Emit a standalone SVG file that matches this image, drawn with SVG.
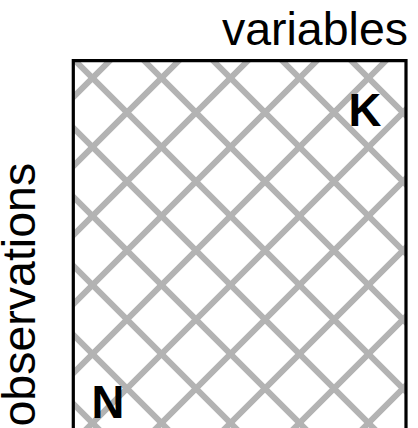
<svg xmlns="http://www.w3.org/2000/svg" width="418" height="428" viewBox="0 0 418 428">
  <style>
    .label { font-family: "Liberation Sans", Arial, sans-serif; font-size: 46.5px; fill: #000; }
    .dim { font-family: "Liberation Sans", Arial, sans-serif; font-size: 45.5px; font-weight: bold; fill: #000; }
    .hatch { stroke: #b3b3b3; stroke-width: 6; fill: none; }
    .frame { stroke: #000; stroke-width: 3.2; fill: none; }
  </style>
  <defs>
    <clipPath id="matrix-clip">
      <rect x="73.3" y="60.7" width="332.7" height="380"/>
    </clipPath>
  </defs>
  <rect width="418" height="428" fill="#fff"/>

  <!-- data matrix: cross-hatched block with black frame -->
  <g id="matrix">
    <g clip-path="url(#matrix-clip)">
      <!-- lines running down-right (x - y = c) -->
      <path class="hatch" d="M-330.5,0 L169.5,500 M-261.5,0 L238.5,500 M-192.5,0 L307.5,500 M-123.5,0 L376.5,500 M-54.5,0 L445.5,500 M14.5,0 L514.5,500 M83.5,0 L583.5,500 M152.5,0 L652.5,500 M221.5,0 L721.5,500 M290.5,0 L790.5,500"/>
      <!-- lines running down-left (x + y = d) -->
      <path class="hatch" d="M170.5,0 L-329.5,500 M239.5,0 L-260.5,500 M308.5,0 L-191.5,500 M377.5,0 L-122.5,500 M446.5,0 L-53.5,500 M515.5,0 L15.5,500 M584.5,0 L84.5,500 M653.5,0 L153.5,500 M722.5,0 L222.5,500 M791.5,0 L291.5,500"/>
    </g>
    <path class="frame" d="M73.3,440 V60.7 H406 V440"/>
    <text class="dim" x="348.5" y="126">K</text>
    <text class="dim" x="91.5" y="418">N</text>
  </g>

  <!-- axis labels -->
  <g id="label-variables">
    <text class="label" x="408" y="45" text-anchor="end">variables</text>
  </g>
  <g id="label-observations">
    <text class="label" transform="translate(35,426.5) rotate(-90)">observations</text>
  </g>
</svg>
